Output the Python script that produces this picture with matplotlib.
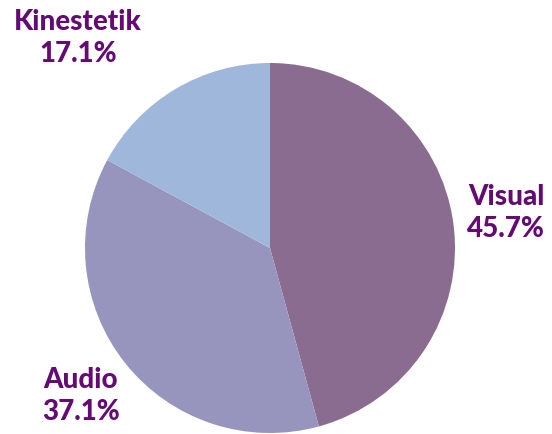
import matplotlib
matplotlib.use("Agg")
import matplotlib.pyplot as plt

labels = ["Visual", "Audio", "Kinestetik"]
values = [45.7, 37.1, 17.1]
colors = ["#8B6C91", "#9795BD", "#9FB7DB"]

# label positions in pixels (x, y from top)
label_pos = [(506, 213), (81, 396), (78, 38)]

W, H = 552, 435
fig = plt.figure(figsize=(W / 100, H / 100), dpi=100)
fig.patch.set_facecolor("white")

cx, cy, r = 270, 249, 185
ax = fig.add_axes([(cx - r) / W, (H - cy - r) / H, 2 * r / W, 2 * r / H])
ax.pie(values, colors=colors, startangle=90, counterclock=False,
       radius=1, wedgeprops=dict(linewidth=0))
ax.set_xlim(-1, 1)
ax.set_ylim(-1, 1)
ax.set_aspect("equal")
ax.axis("off")

for lab, val, (x, y) in zip(labels, values, label_pos):
    fig.text(x / W, 1 - y / H, f"{lab}\n{val}%", ha="center", va="center",
             fontsize=20, fontweight="black", family="Lato", color="#650A75",
             linespacing=1.3)

fig.savefig("out.png", dpi=100, facecolor="white")
